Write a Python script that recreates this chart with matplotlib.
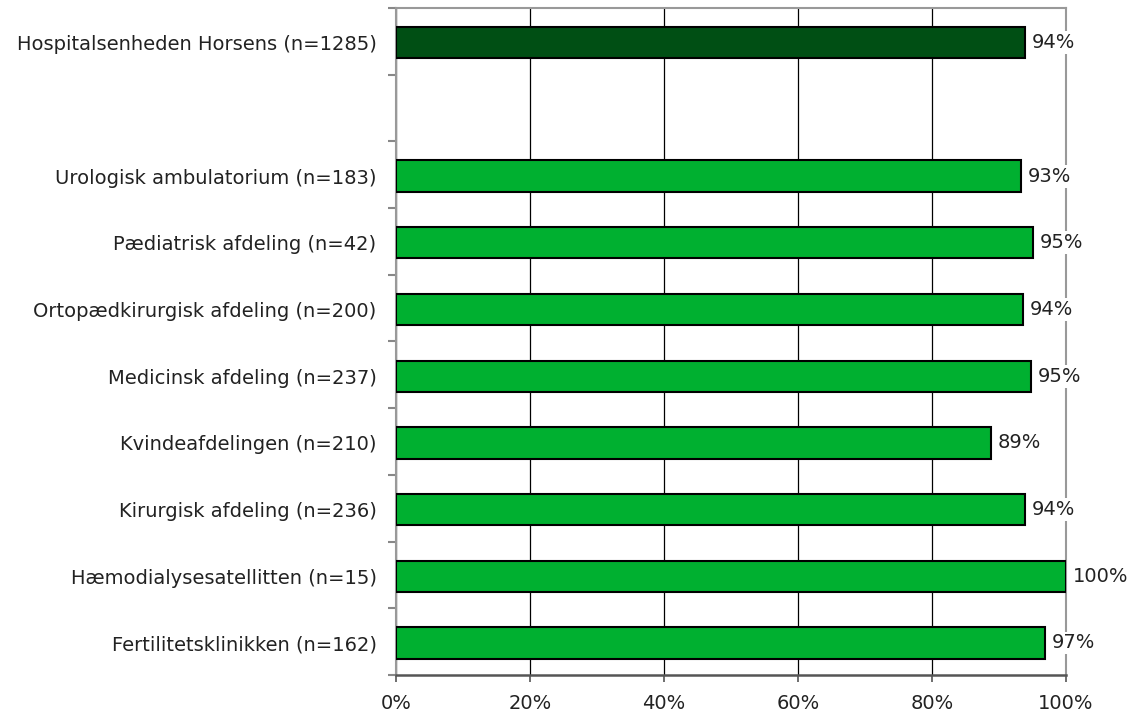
import numpy as np
import matplotlib.pyplot as plt
from matplotlib.ticker import FixedLocator, PercentFormatter

# top to bottom, None = empty slot
categories = ["Hospitalsenheden Horsens (n=1285)", "",
              "Urologisk ambulatorium (n=183)", "Pædiatrisk afdeling (n=42)",
              "Ortopædkirurgisk afdeling (n=200)", "Medicinsk afdeling (n=237)",
              "Kvindeafdelingen (n=210)", "Kirurgisk afdeling (n=236)",
              "Hæmodialysesatellitten (n=15)", "Fertilitetsklinikken (n=162)"]
values = [93.9, None, 93.3, 95.1, 93.6, 94.8, 88.8, 93.9, 100, 96.9]
colors = ["#004F14"] + ["#00B030"] * 9

plt.rcParams['font.family'] = ['DejaVu Sans']
fig = plt.figure(figsize=(11.31, 7.22), dpi=100)
ax = fig.add_axes([396/1131, 1 - 675/722, 670/1131, 667/722])

n = len(categories)
ypos = np.arange(n) + 0.02
for y, v, c in zip(ypos, values, colors):
    if v is None:
        continue
    ax.barh(y, v, height=0.47, color=c, edgecolor="black", linewidth=1.5, zorder=3)
    ax.annotate(f"{v:.0f}%", (v, y), xytext=(5, 0), textcoords="offset points",
                va="center", ha="left", fontsize=14, color="#222222", zorder=4,
                bbox=dict(boxstyle="square,pad=0.1", fc="white", ec="none"))

ax.set_xlim(0, 100)
ax.set_ylim(n - 0.5, -0.5)
ax.set_xticks([0, 20, 40, 60, 80, 100])
ax.xaxis.set_major_formatter(PercentFormatter(decimals=0))
ax.grid(axis="x", color="black", linewidth=0.9, zorder=0)

ax.set_yticks(ypos)
ax.set_yticklabels(categories, fontsize=14, color="#222222")
ax.tick_params(axis="y", which="major", length=0, pad=14)
ax.yaxis.set_minor_locator(FixedLocator(np.arange(-0.5, n, 1)))
ax.tick_params(axis="y", which="minor", length=6, width=1.5, color="#888888")
ax.tick_params(axis="x", length=5, width=1.2, color="#555555", labelsize=14,
               labelcolor="#222222", pad=9)

for s in ["left", "top", "right"]:
    ax.spines[s].set_color("#999999")
    ax.spines[s].set_linewidth(1.5)
ax.spines["bottom"].set_color("#555555")
ax.spines["bottom"].set_linewidth(1.8)

fig.savefig("out.png", dpi=100)
